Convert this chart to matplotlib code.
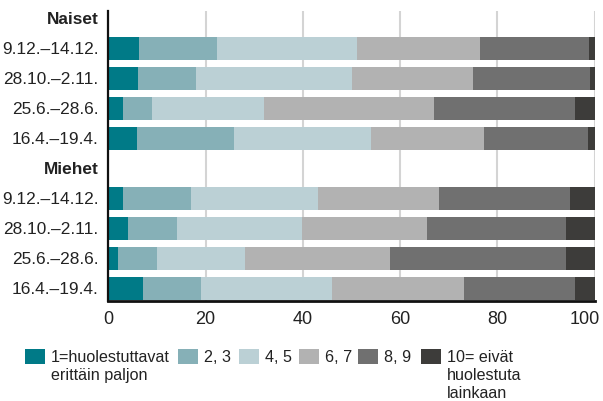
import matplotlib
matplotlib.use("Agg")
import matplotlib.pyplot as plt
from matplotlib.patches import Rectangle
from matplotlib.transforms import ScaledTranslation

plt.rcParams['font.family'] = ['Liberation Sans', 'DejaVu Sans']

groups = ["Naiset", "Miehet"]
periods = ["9.12.–14.12.", "28.10.–2.11.", "25.6.–28.6.", "16.4.–19.4."]
categories = ["1=huolestuttavat\nerittäin paljon", "2, 3", "4, 5", "6, 7", "8, 9",
              "10= eivät\nhuolestuta\nlainkaan"]
colors = ["#007A87", "#86B0B7", "#BBD0D5", "#B2B2B2", "#707070", "#3D3C3A"]

naiset = [
    [6.3, 16.0, 28.8, 25.3, 22.4, 1.2],
    [6.1, 11.9, 32.1, 24.9, 24.0, 1.0],
    [3.0, 6.0, 23.0, 35.0, 28.9, 4.1],
    [5.9, 19.9, 28.2, 23.2, 21.4, 1.4],
]
miehet = [
    [3.0, 14.0, 26.1, 24.9, 26.9, 5.1],
    [4.1, 10.0, 25.7, 25.7, 28.6, 5.9],
    [2.0, 8.0, 18.1, 29.8, 36.2, 5.9],
    [7.1, 11.9, 27.0, 27.1, 22.8, 4.1],
]
xticks = [0, 20, 40, 60, 80, 100]

W, H = 603, 401
fig = plt.figure(figsize=(W / 100, H / 100), dpi=100)
ax = fig.add_axes([108.3 / W, 1 - 301 / H, (594.7 - 108.3) / W, (301 - 11) / H])

rows = naiset + miehet
ypos = [1, 2, 3, 4, 6, 7, 8, 9]
for k in range(len(categories)):
    left = [sum(r[:k]) for r in rows]
    vals = [r[k] for r in rows]
    ax.barh(ypos, vals, left=left, height=0.77, color=colors[k], linewidth=0, zorder=3)

ax.set_ylim(9.42, -0.25)
ax.set_xlim(0, 100)
ax.set_xticks(xticks)
ax.set_xticklabels([str(t) for t in xticks])
ylabels = [groups[0]] + periods + [groups[1]] + periods
ax.set_yticks([0, 1, 2, 3, 4, 5, 6, 7, 8, 9])
ax.set_yticklabels(ylabels)
ax.tick_params(axis='both', length=0, colors='#222222')
ax.tick_params(axis='y', pad=7, labelsize=12.4)
ax.tick_params(axis='x', pad=7, labelsize=13)
for i, lab in enumerate(ax.get_yticklabels()):
    if i in (0, 5):
        lab.set_fontweight('bold')
last = ax.get_xticklabels()[-1]
last.set_transform(last.get_transform() + ScaledTranslation(-10 / 100, 0, fig.dpi_scale_trans))

ax.grid(axis='x', color='#D4D4D4', linewidth=1.5, zorder=0)
ax.set_axisbelow(True)
for s in ['top', 'right']:
    ax.spines[s].set_visible(False)
ax.spines['left'].set_linewidth(1.6)
ax.spines['left'].set_color('#111111')
ax.spines['bottom'].set_linewidth(2.0)
ax.spines['bottom'].set_color('#111111')
ax.spines['left'].set_zorder(5)
ax.spines['bottom'].set_zorder(5)

# legend (manual, handles aligned with first text line)
sq_x = [25, 178, 239, 299, 358, 421]
sq_w, sq_h = 20, 15
sq_top = 349
for c, lab, x in zip(colors, categories, sq_x):
    fig.patches.append(Rectangle((x / W, 1 - (sq_top + sq_h) / H), sq_w / W, sq_h / H,
                                 transform=fig.transFigure, facecolor=c, edgecolor='none'))
    for j, line in enumerate(lab.split("\n")):
        fig.text((x + sq_w + 6) / W, 1 - (362 + 18 * j) / H, line, ha='left',
                 va='baseline', fontsize=11.6, color='#222222')

fig.savefig("out.png", dpi=100)
